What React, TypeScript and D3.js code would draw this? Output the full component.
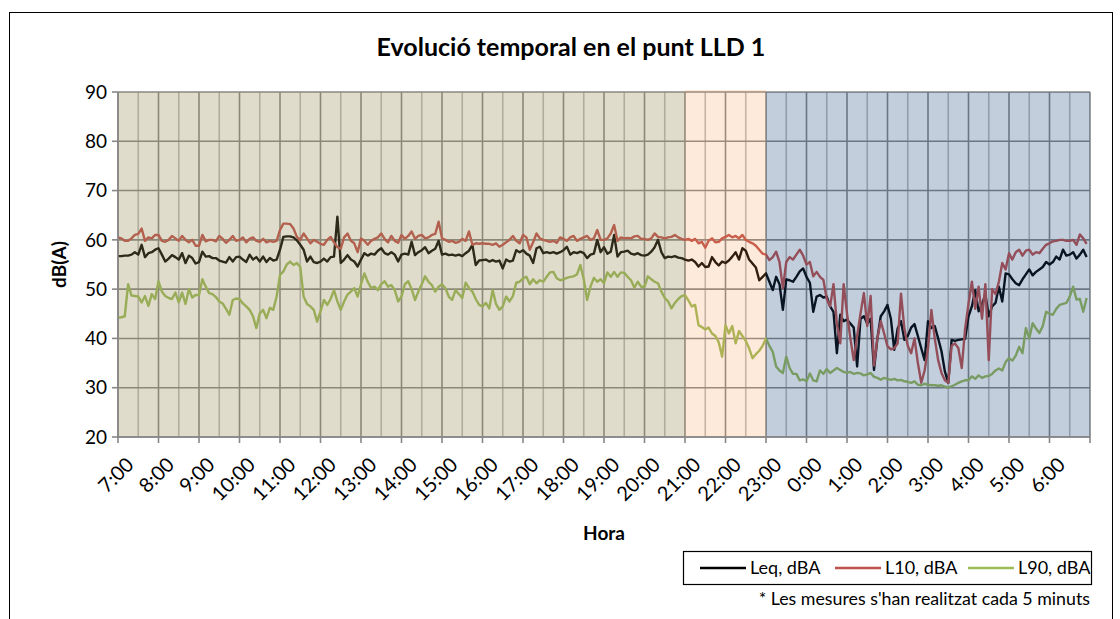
import React from "react";
import * as d3 from "d3";

// etiquetes de l'eix X (una per hora, de 7:00 a 6:00)
const hores = ["7:00", "8:00", "9:00", "10:00", "11:00", "12:00", "13:00", "14:00", "15:00", "16:00", "17:00", "18:00",
  "19:00", "20:00", "21:00", "22:00", "23:00", "0:00", "1:00", "2:00", "3:00", "4:00", "5:00", "6:00"];
const ticksY = [20, 30, 40, 50, 60, 70, 80, 90];

// mesures cada 5 minuts, 12 per fila (una fila = una hora)
const leq = [
  56.7, 56.7, 56.8, 56.8, 57.0, 57.5, 57.0, 59.0, 56.5, 57.3, 57.5, 58.0,
  58.3, 57.0, 55.6, 56.2, 56.9, 56.5, 56.0, 57.3, 55.3, 56.8, 56.3, 55.2,
  55.5, 57.6, 56.6, 56.7, 56.3, 56.3, 55.8, 55.6, 55.4, 56.5, 55.6, 56.5,
  56.6, 56.0, 55.5, 57.0, 56.0, 56.5, 55.6, 56.6, 55.5, 56.3, 55.8, 56.0,
  58.0, 60.6, 60.7, 60.7, 60.5, 59.9, 59.0, 58.0, 55.6, 56.6, 55.5, 55.3,
  55.6, 56.2, 55.6, 56.5, 56.6, 64.7, 55.3, 56.0, 56.9, 56.0, 55.6, 54.6,
  56.0, 57.3, 56.8, 57.2, 57.0, 57.8, 58.3, 57.3, 57.0, 57.5, 57.0, 55.6,
  57.0, 57.2, 57.0, 59.6, 56.9, 57.5, 57.9, 58.5, 57.3, 57.8, 58.2, 59.8,
  57.0, 57.2, 56.9, 57.0, 56.8, 57.0, 56.7, 57.3, 57.8, 59.0, 54.9, 55.8,
  55.9, 56.0, 55.6, 55.9, 55.6, 55.8, 54.2, 56.0, 55.6, 55.8, 57.9, 57.5,
  57.9, 57.2, 56.8, 55.3, 58.3, 58.6, 57.3, 57.5, 57.3, 57.5, 57.2, 57.5,
  57.9, 58.6, 57.0, 57.5, 57.3, 57.6, 57.3, 56.3, 57.0, 57.2, 60.0, 57.5,
  58.5, 57.2, 57.6, 61.0, 56.6, 57.5, 57.6, 57.8, 57.2, 57.0, 57.3, 56.9,
  56.8, 57.0, 57.6, 58.5, 60.0, 57.5, 56.3, 56.6, 56.5, 56.7, 56.4, 56.3,
  56.0, 55.8, 56.0, 55.5, 54.6, 55.3, 54.5, 54.6, 56.5, 55.5, 54.8, 55.6,
  55.3, 55.8, 56.6, 57.5, 56.0, 58.3, 57.8, 56.0, 55.2, 54.4, 51.8, 52.5,
  53.2, 51.5, 49.8, 52.5, 51.0, 45.8, 52.0, 51.8, 51.5, 52.5, 53.6, 54.2,
  52.5, 51.3, 45.4, 48.5, 48.8, 48.3, 48.5, 46.5, 45.4, 37.0, 44.8, 43.5,
  43.8, 43.0, 42.2, 34.3, 44.0, 44.5, 43.0, 44.0, 33.6, 40.0, 44.5, 45.5,
  46.8, 44.0, 37.7, 42.0, 43.5, 39.7, 40.5, 42.2, 42.9, 40.5, 38.0, 35.6,
  43.5, 42.1, 42.5, 40.0, 37.4, 33.3, 31.0, 39.7, 39.5, 39.7, 39.8, 39.9,
  44.5, 46.5, 49.8, 45.5, 47.0, 48.9, 44.5, 46.5, 47.2, 50.5, 47.5, 53.2,
  53.0, 52.0, 51.2, 50.8, 52.0, 53.0, 54.0, 52.8, 53.5, 54.0, 54.5, 55.5,
  55.0, 55.5, 56.6, 56.0, 58.0, 56.8, 57.0, 57.5, 56.2, 57.0, 58.0, 56.5,
];

const l10 = [
  60.5, 60.3, 59.8, 59.8, 60.3, 61.0, 61.2, 62.3, 59.8, 60.5, 60.3, 61.0,
  61.0, 59.8, 59.6, 60.0, 60.8, 60.3, 59.8, 60.8, 60.0, 59.5, 60.0, 58.8,
  58.8, 61.0, 59.7, 60.0, 60.0, 59.7, 60.8, 60.2, 59.4, 60.0, 60.8, 59.8,
  60.0, 60.5, 59.5, 60.2, 60.5, 59.8, 59.6, 60.2, 59.5, 59.8, 59.6, 59.8,
  62.0, 63.3, 63.3, 63.2, 62.3, 60.6, 60.0, 61.3, 60.3, 59.3, 60.0, 59.6,
  59.2, 59.0, 60.0, 60.6, 59.5, 58.5, 58.2, 60.5, 61.3, 59.8, 59.3, 57.5,
  60.3, 59.8, 59.0, 59.8, 60.2, 60.5, 61.3, 60.2, 59.5, 60.8, 59.8, 59.4,
  61.0, 60.2, 60.8, 61.7, 60.2, 60.8, 61.0, 60.3, 60.5, 61.0, 61.2, 63.7,
  60.3, 60.0, 59.6, 59.8, 59.4, 59.6, 60.2, 59.8, 61.7, 59.0, 59.3, 59.2,
  59.3, 59.2, 59.2, 59.0, 59.3, 58.6, 59.0, 59.5, 60.0, 60.8, 59.8, 59.3,
  61.0, 60.5, 58.0, 59.5, 61.3, 60.3, 60.0, 59.8, 59.6, 59.8, 59.4, 60.5,
  60.2, 59.8, 60.5, 60.8, 59.8, 60.2, 60.5, 60.8, 60.0, 60.3, 62.0, 60.0,
  60.0, 60.3, 61.3, 63.0, 59.8, 60.5, 60.3, 60.4, 60.3, 60.7, 60.8, 60.2,
  60.2, 60.0, 60.3, 61.3, 60.6, 60.5, 60.3, 60.5, 60.6, 61.0, 60.5, 60.2,
  60.0, 60.2, 59.8, 60.2, 59.3, 59.6, 58.4, 59.8, 60.3, 59.5, 59.6, 60.3,
  60.6, 61.0, 60.5, 60.8, 60.3, 61.0, 60.0, 59.6, 59.3, 58.8, 58.0, 57.2,
  57.0, 55.9, 56.5, 57.6, 55.5, 50.2, 55.5, 56.5, 56.0, 57.0, 58.0, 56.8,
  55.0, 55.5, 52.6, 53.5, 52.5, 51.9, 48.0, 46.5, 51.0, 43.0, 39.0, 51.0,
  45.1, 40.0, 35.6, 40.5, 45.0, 49.2, 42.5, 48.6, 34.5, 40.0, 43.5, 41.0,
  38.4, 37.8, 38.0, 39.0, 49.1, 42.0, 38.5, 37.0, 40.0, 35.0, 31.0, 33.5,
  38.0, 45.8, 40.0, 35.6, 33.0, 31.5, 31.0, 38.5, 39.0, 38.0, 34.0, 42.0,
  47.0, 51.5, 46.0, 50.5, 44.0, 51.0, 35.6, 50.0, 49.0, 51.5, 55.3, 54.0,
  57.3, 56.0, 57.5, 58.0, 56.8, 57.8, 58.0, 57.0, 57.5, 57.3, 58.2, 59.0,
  59.3, 59.7, 59.8, 60.0, 60.0, 59.8, 59.8, 60.0, 59.0, 61.1, 60.3, 59.2,
];

const l90 = [
  44.2, 44.3, 44.5, 51.0, 48.7, 48.6, 48.5, 47.3, 48.6, 46.6, 49.0, 48.0,
  51.6, 49.5, 48.6, 48.2, 48.0, 49.3, 47.3, 49.3, 47.0, 50.0, 48.3, 48.8,
  48.8, 52.0, 50.5, 49.2, 49.0, 48.4, 47.5, 47.1, 46.0, 44.8, 47.8, 48.1,
  48.0, 47.1, 46.5, 45.8, 44.5, 42.1, 45.1, 45.8, 44.1, 46.2, 45.8, 48.5,
  52.9, 53.6, 55.0, 55.6, 54.9, 55.3, 54.5, 48.5, 47.0, 46.5, 45.8, 43.4,
  45.5, 47.8, 46.8, 48.0, 49.8, 47.5, 45.8, 47.5, 48.9, 49.5, 50.2, 48.5,
  51.0, 53.2, 51.5, 50.2, 50.5, 49.8, 51.0, 51.6, 50.5, 50.8, 49.8, 47.5,
  48.5, 51.0, 51.6, 50.0, 47.8, 49.5, 51.0, 52.6, 51.5, 50.8, 49.5, 50.5,
  51.0, 50.2, 48.5, 47.8, 49.8, 49.0, 48.2, 51.3, 50.2, 49.5, 48.0, 46.8,
  46.5, 47.2, 46.1, 49.8, 47.0, 45.8, 46.5, 48.5, 47.5, 48.6, 51.3, 51.5,
  52.2, 52.5, 51.0, 52.0, 51.2, 51.8, 51.5, 52.5, 53.4, 53.5, 52.2, 51.8,
  52.0, 52.3, 52.5, 52.6, 53.0, 54.9, 52.0, 47.8, 50.5, 52.3, 51.5, 52.0,
  51.2, 53.4, 52.5, 53.5, 52.5, 53.4, 53.3, 52.5, 51.8, 50.3, 51.5, 50.5,
  50.5, 52.6, 52.0, 51.5, 51.2, 49.5, 48.2, 47.5, 46.1, 47.2, 48.0, 48.6,
  48.8, 47.7, 46.5, 46.8, 42.7, 42.3, 41.8, 42.2, 41.0, 40.5, 39.2, 36.3,
  42.7, 41.0, 42.5, 39.0, 41.5, 40.5, 39.5, 38.0, 36.0, 36.8, 37.5, 38.5,
  40.0, 38.5, 37.3, 34.3, 33.5, 33.0, 36.3, 34.0, 32.8, 32.8, 31.5, 31.7,
  31.3, 32.9, 31.5, 31.3, 33.5, 32.8, 33.8, 33.0, 33.5, 34.0, 33.6, 33.2,
  33.0, 33.2, 32.8, 33.0, 32.9, 32.5, 32.7, 33.0, 32.2, 32.0, 31.6, 32.0,
  31.8, 31.6, 31.8, 31.5, 31.6, 31.3, 31.2, 31.0, 31.3, 30.6, 30.5, 30.8,
  30.6, 30.5, 30.5, 30.4, 30.5, 30.2, 30.0, 30.3, 30.6, 31.0, 31.3, 31.5,
  31.5, 32.3, 31.8, 32.5, 32.0, 32.3, 32.4, 32.8, 33.5, 33.9, 33.5, 35.2,
  36.0, 35.5, 36.5, 38.3, 37.0, 42.1, 40.0, 43.1, 42.0, 41.1, 42.5, 45.4,
  45.0, 44.8, 46.0, 46.8, 47.0, 47.2, 48.5, 50.5, 47.9, 48.0, 45.4, 48.2,
];

const series = [
  { nom: "Leq, dBA", valors: leq },
  { nom: "L10, dBA", valors: l10 },
  { nom: "L90, dBA", valors: l90 },
];

// franges horaries (hores des de les 7:00): dia, vespre, nit
const franges = [
  { nom: "dia", inici: 0, fi: 14 },
  { nom: "vespre", inici: 14, fi: 16 },
  { nom: "nit", inici: 16, fi: 24 },
];

const colorSerie: Record<string, string> = {
  "Leq, dBA": "#000000",
  "L10, dBA": "#C0504D",
  "L90, dBA": "#9BBB59",
};
const colorFranja: Record<string, [string, number]> = {
  dia: ["#948A54", 0.3],
  vespre: ["#F79646", 0.2],
  nit: ["#1F497D", 0.27],
};

const font = "Lato, 'Open Sans', sans-serif";

const App = () => {
  const W = 1120, H = 619;
  const x = d3.scaleLinear().domain([0, 24 * 60]).range([118, 1090]);
  const y = d3.scaleLinear().domain([20, 90]).range([437, 92]);
  const linia = d3.line<number>().x((_, i) => x(i * 5)).y(d => y(d));

  const mitges = d3.range(0, 24).map(h => h * 60 + 30);
  const horesPos = d3.range(0, 25).map(h => h * 60);

  return (
    <svg width={W} height={H} style={{ position: "absolute", left: 0, top: 0, background: "#fff" }} fontFamily={font}>
      <rect x={9.5} y={12.5} width={1103} height={700} fill="#fff" stroke="#000" strokeWidth={1} />

      <text x={571} y={56} textAnchor="middle" fontWeight="bold" fontSize={25}>Evolució temporal en el punt LLD 1</text>

      {/* graella */}
      {mitges.map(m => (
        <line key={"m" + m} x1={x(m)} x2={x(m)} y1={y(20)} y2={y(90)} stroke="#bcbcbc" strokeWidth={1.6} />
      ))}
      {horesPos.map(m => (
        <line key={"h" + m} x1={x(m)} x2={x(m)} y1={y(20)} y2={y(90)} stroke="#878787" strokeWidth={1.6} />
      ))}
      {ticksY.map(v => (
        <line key={"y" + v} x1={x(0)} x2={x(24 * 60)} y1={y(v)} y2={y(v)} stroke="#878787" strokeWidth={1.6} />
      ))}

      {series.map(s => (
        <path key={s.nom} d={linia(s.valors) || ""} fill="none" stroke={colorSerie[s.nom]} strokeWidth={2.4} strokeLinejoin="round" />
      ))}

      {/* franges translucides per sobre */}
      {franges.map(f => (
        <rect key={f.nom} x={x(f.inici * 60)} width={x(f.fi * 60) - x(f.inici * 60)}
          y={y(90) - (f.nom === "vespre" ? 2 : 0)} height={y(20) - y(90) + (f.nom === "vespre" ? 2 : 0)}
          fill={colorFranja[f.nom][0]} fillOpacity={colorFranja[f.nom][1]} />
      ))}

      {/* eixos */}
      {ticksY.map(v => (
        <g key={"ty" + v}>
          <line x1={x(0) - 6} x2={x(0)} y1={y(v)} y2={y(v)} stroke="#878787" strokeWidth={1.6} />
          <text x={x(0) - 11} y={y(v)} dy="0.35em" textAnchor="end" fontSize={19}>{v}</text>
        </g>
      ))}
      <line x1={x(0)} x2={x(0)} y1={y(20)} y2={y(90)} stroke="#878787" strokeWidth={1.6} />
      <line x1={x(0)} x2={x(24 * 60)} y1={y(20)} y2={y(20)} stroke="#878787" strokeWidth={1.6} />
      {horesPos.map(m => (
        <line key={"tx" + m} x1={x(m)} x2={x(m)} y1={y(20)} y2={y(20) + 6} stroke="#878787" strokeWidth={1.6} />
      ))}
      {hores.map((h, i) => (
        <text key={h} transform={`translate(${x(i * 60) + 12},${y(20) + 24}) rotate(-45)`} textAnchor="end"
          dy="0.35em" fontSize={20}>{h}</text>
      ))}

      <text transform={`translate(59,${(y(20) + y(90)) / 2}) rotate(-90)`} textAnchor="middle" dy="0.35em"
        fontWeight="bold" fontSize={19}>dB(A)</text>
      <text x={(x(0) + x(24 * 60)) / 2} y={540} textAnchor="middle" fontWeight="bold" fontSize={19}>Hora</text>

      {/* llegenda */}
      <rect x={683.5} y={551.5} width={408} height={33} fill="#fff" stroke="#000" strokeWidth={1.2} />
      {series.map((s, i) => {
        const x0 = [700, 835, 968][i];
        return (
          <g key={"lg" + s.nom}>
            <line x1={x0} x2={x0 + 46} y1={568} y2={568} stroke={colorSerie[s.nom]} strokeWidth={2.4} />
            <text x={x0 + 50} y={568} dy="0.35em" fontSize={18}>{s.nom}</text>
          </g>
        );
      })}
      <text x={1090} y={605} textAnchor="end" fontSize={17.8}>* Les mesures s'han realitzat cada 5 minuts</text>
    </svg>
  );
};

export default App;
